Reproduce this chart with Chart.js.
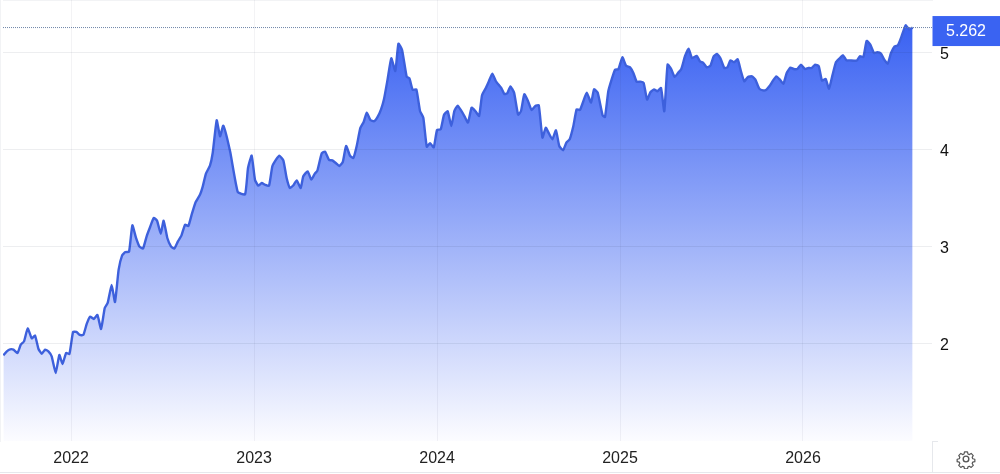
<!DOCTYPE html>
<html>
<head>
<meta charset="utf-8">
<title>Chart</title>
<script src="https://cdn.jsdelivr.net/npm/chart.js@4/dist/chart.umd.min.js"></script>
<style>
  html, body { margin: 0; padding: 0; background: #ffffff; overflow: hidden; }
  #wrap { position: relative; width: 1000px; height: 474px; }
  #gear { position: absolute; left: 956px; top: 449px; width: 20px; height: 20px; }
</style>
</head>
<body>
<div id="wrap">
  <canvas id="chart" width="1000" height="474"></canvas>
  <svg id="gear" viewBox="0 0 24 24" fill="none" stroke="#555555" stroke-width="1.6" stroke-linejoin="round">
    <circle cx="12" cy="12" r="3.4"></circle>
    <path d="M10 2.5h4l.6 2.8 1.9.8 2.4-1.5 2.8 2.8-1.5 2.4.8 1.9 2.8.6v3.2l-2.8.6-.8 1.9 1.5 2.4-2.8 2.8-2.4-1.5-1.9.8-.6 2.8h-4l-.6-2.8-1.9-.8-2.4 1.5-2.8-2.8 1.5-2.4-.8-1.9-2.8-.6v-3.2l2.8-.6.8-1.9-1.5-2.4 2.8-2.8 2.4 1.5 1.9-.8z" transform="translate(1.2 1.2) scale(0.9)"></path>
  </svg>
</div>
<script>
const yearTicks = [2022, 2023, 2024, 2025, 2026]
const valueTicks = [2, 3, 4, 5]

// position along the time axis, in years
const dates = [
  2021.630, 2021.649, 2021.667, 2021.685, 2021.707, 2021.725, 2021.743, 2021.763, 2021.785, 2021.803,
  2021.822, 2021.840, 2021.858, 2021.876, 2021.894, 2021.916, 2021.936, 2021.953, 2021.973, 2021.991,
  2022.011, 2022.029, 2022.047, 2022.067, 2022.086, 2022.104, 2022.124, 2022.144, 2022.164, 2022.184,
  2022.200, 2022.222, 2022.240, 2022.260, 2022.279, 2022.297, 2022.317, 2022.335, 2022.355, 2022.373,
  2022.393, 2022.413, 2022.432, 2022.452, 2022.470, 2022.490, 2022.506, 2022.526, 2022.546, 2022.564,
  2022.584, 2022.603, 2022.623, 2022.641, 2022.659, 2022.679, 2022.705, 2022.719, 2022.737, 2022.759,
  2022.774, 2022.796, 2022.814, 2022.832, 2022.869, 2022.911, 2022.951, 2022.967, 2022.987, 2023.005,
  2023.023, 2023.042, 2023.062, 2023.082, 2023.100, 2023.120, 2023.138, 2023.160, 2023.178, 2023.196,
  2023.215, 2023.233, 2023.255, 2023.269, 2023.293, 2023.313, 2023.332,
  2023.346, 2023.370, 2023.388, 2023.410, 2023.428, 2023.448, 2023.466, 2023.485, 2023.503, 2023.525,
  2023.543, 2023.561, 2023.581, 2023.599, 2023.616, 2023.636, 2023.656, 2023.676, 2023.694, 2023.710,
  2023.730, 2023.750, 2023.772, 2023.789, 2023.809, 2023.834, 2023.849, 2023.867, 2023.887, 2023.907,
  2023.925, 2023.944, 2023.962, 2023.982, 2024.000, 2024.020, 2024.038, 2024.058, 2024.078, 2024.095,
  2024.113, 2024.133, 2024.151, 2024.169, 2024.189, 2024.209, 2024.230, 2024.246, 2024.266, 2024.284,
  2024.302, 2024.321, 2024.339, 2024.350, 2024.368, 2024.384, 2024.401, 2024.421, 2024.443, 2024.459,
  2024.477, 2024.497, 2024.517, 2024.537, 2024.556, 2024.576, 2024.594, 2024.612, 2024.630, 2024.650,
  2024.668, 2024.689, 2024.707, 2024.725, 2024.745, 2024.763, 2024.781, 2024.800, 2024.818, 2024.842,
  2024.858, 2024.878, 2024.905, 2024.918, 2024.936, 2024.954, 2024.973, 2024.991, 2025.013, 2025.033,
  2025.055, 2025.073, 2025.091, 2025.111, 2025.129, 2025.148, 2025.166, 2025.186, 2025.204, 2025.224,
  2025.242, 2025.260, 2025.279, 2025.299, 2025.317, 2025.335, 2025.355, 2025.375, 2025.393, 2025.419,
  2025.437, 2025.455, 2025.475, 2025.494, 2025.512, 2025.530, 2025.548, 2025.570, 2025.587, 2025.603,
  2025.623, 2025.643, 2025.661, 2025.679, 2025.699, 2025.721, 2025.740, 2025.761, 2025.781, 2025.798,
  2025.816, 2025.836, 2025.854, 2025.874, 2025.893, 2025.911, 2025.931, 2025.949, 2025.969, 2025.989,
  2026.011, 2026.029, 2026.047, 2026.066, 2026.086, 2026.104, 2026.124, 2026.142, 2026.162, 2026.180,
  2026.199, 2026.219, 2026.237, 2026.255, 2026.293, 2026.311, 2026.330, 2026.348, 2026.368, 2026.388,
  2026.406, 2026.426, 2026.444, 2026.463, 2026.481, 2026.501, 2026.519, 2026.539, 2026.561, 2026.581,
  2026.599
]

const prices = [
  1.883, 1.924, 1.945, 1.942, 1.907, 1.993, 2.027, 2.161, 2.058, 2.086,
  1.948, 1.900, 1.942, 1.924, 1.873, 1.701, 1.887, 1.794, 1.907, 1.897,
  2.124, 2.124, 2.093, 2.093, 2.210, 2.282, 2.258, 2.299, 2.155, 2.371,
  2.423, 2.608, 2.433, 2.766, 2.914, 2.948, 2.952, 3.223, 3.093, 3.007,
  2.983, 3.110, 3.206, 3.299, 3.271, 3.137, 3.271, 3.093, 3.007, 2.983,
  3.058, 3.117, 3.230, 3.216, 3.333, 3.454, 3.540, 3.619, 3.756, 3.838,
  3.969, 4.306, 4.141, 4.251, 3.986, 3.567, 3.543, 3.814, 3.942, 3.694,
  3.632, 3.660, 3.639, 3.632, 3.832, 3.900, 3.942, 3.893, 3.711, 3.608,
  3.636, 3.687, 3.608, 3.729, 3.780, 3.694, 3.756,
  3.787, 3.966, 3.983, 3.897, 3.893, 3.863, 3.835, 3.876, 4.041, 3.938,
  3.918, 4.041, 4.227, 4.289, 4.385, 4.309, 4.296, 4.344, 4.419, 4.522,
  4.729, 4.945, 4.814, 5.096, 5.031, 4.756, 4.739, 4.619, 4.625, 4.402,
  4.333, 4.034, 4.069, 4.027, 4.206, 4.213, 4.361, 4.399, 4.247, 4.402,
  4.457, 4.402, 4.344, 4.282, 4.436, 4.402, 4.351, 4.564, 4.636, 4.711,
  4.787, 4.711, 4.667, 4.643, 4.577, 4.584, 4.656, 4.591, 4.364, 4.402,
  4.574, 4.505, 4.412, 4.454, 4.460, 4.127, 4.230, 4.168, 4.110, 4.203,
  4.041, 3.997, 4.076, 4.110, 4.247, 4.419, 4.412, 4.505, 4.591, 4.488,
  4.625, 4.591, 4.357, 4.340, 4.605, 4.725, 4.828, 4.832, 4.955, 4.869,
  4.852, 4.794, 4.704, 4.704, 4.691, 4.519, 4.595, 4.625, 4.605, 4.639,
  4.399, 4.880, 4.835, 4.753, 4.794, 4.835, 4.966, 5.045, 4.948, 4.969,
  4.914, 4.897, 4.852, 4.869, 4.966, 4.990, 4.948, 4.845, 4.852, 4.924,
  4.904, 4.935, 4.811, 4.708, 4.753, 4.759, 4.725, 4.632, 4.615, 4.619,
  4.656, 4.715, 4.759, 4.725, 4.684, 4.794, 4.849, 4.835, 4.835, 4.880,
  4.835, 4.845, 4.845, 4.880, 4.863, 4.715, 4.732, 4.632, 4.777, 4.904,
  4.942, 4.976, 4.924, 4.924, 4.921, 4.966, 4.959, 5.124, 5.086, 5.000,
  5.007, 4.993, 4.931, 4.890, 5.000, 5.069, 5.079, 5.172, 5.285, 5.241,
  5.262
]

const lastPrice = prices[prices.length - 1]
const fontFamily = "'Liberation Sans', Arial, sans-serif"

const priceTag = {
  id: "priceTag",
  afterDatasetsDraw(chart) {
    const { ctx, chartArea, scales } = chart
    const y = scales.y.getPixelForValue(lastPrice)

    ctx.save()
    ctx.strokeStyle = "#6f86a8"
    ctx.lineWidth = 1
    ctx.setLineDash([1, 1])
    ctx.beginPath()
    ctx.moveTo(chartArea.left, y)
    ctx.lineTo(chartArea.right, y)
    ctx.stroke()
    ctx.setLineDash([])

    ctx.strokeStyle = "#e6e8ec"
    ctx.beginPath()
    ctx.moveTo(chartArea.right + 0.5, chartArea.bottom)
    ctx.lineTo(chartArea.right + 0.5, 473)
    ctx.moveTo(chartArea.right, chartArea.bottom + 0.5)
    ctx.lineTo(chartArea.right + 6, chartArea.bottom + 0.5)
    ctx.moveTo(0, 472.5)
    ctx.lineTo(1000, 472.5)
    ctx.stroke()

    ctx.fillStyle = "#3a63f2"
    ctx.fillRect(chartArea.right + 0.5, y - 11.5, 67.5, 30)
    ctx.fillStyle = "#ffffff"
    ctx.font = "16px " + fontFamily
    ctx.textAlign = "center"
    ctx.textBaseline = "middle"
    ctx.fillText(lastPrice.toFixed(3), chartArea.right + 34, y + 4)
    ctx.restore()
  }
}

new Chart(document.getElementById("chart"), {
  type: "line",
  data: {
    datasets: [{
      data: dates.map((date, index) => ({ x: date, y: prices[index] })),
      borderColor: "#3d60dc",
      borderWidth: 2.4,
      pointRadius: 0,
      tension: 0.15,
      fill: "start",
      backgroundColor: (context) => {
        const { ctx, chartArea } = context.chart
        if (!chartArea) return "#3d66f0"

        const gradient = ctx.createLinearGradient(0, 27, 0, chartArea.bottom)
        gradient.addColorStop(0, "rgb(58, 98, 242)")
        gradient.addColorStop(1, "rgb(252, 252, 255)")
        return gradient
      }
    }]
  },
  options: {
    responsive: false,
    animation: false,
    layout: { padding: { left: 3 } },
    plugins: {
      legend: { display: false },
      tooltip: { enabled: false }
    },
    scales: {
      x: {
        type: "linear",
        min: 2021.628,
        max: 2026.705,
        afterBuildTicks: (axis) => { axis.ticks = yearTicks.map((value) => ({ value })) },
        afterFit: (axis) => { axis.height = 33 },
        grid: { color: "rgba(30, 40, 70, 0.055)", drawTicks: false, z: 1 },
        border: { color: "#e6e8ec" },
        ticks: {
          autoSkip: false,
          maxRotation: 0,
          padding: 8,
          color: "#222222",
          font: { family: fontFamily, size: 16 },
          callback: (value) => String(value)
        }
      },
      y: {
        position: "right",
        min: 1,
        max: 5.546,
        afterBuildTicks: (axis) => { axis.ticks = valueTicks.map((value) => ({ value })) },
        afterFit: (axis) => {
          axis.width = 68
          axis.paddingTop = 0
          axis.paddingBottom = 0
        },
        grid: { color: "rgba(30, 40, 70, 0.08)", drawTicks: false, z: 1 },
        border: { color: "#e6e8ec" },
        ticks: {
          padding: 8,
          labelOffset: 1.5,
          color: "#111111",
          font: { family: fontFamily, size: 16 },
          callback: (value) => String(value)
        }
      }
    }
  },
  plugins: [priceTag]
})
</script>
</body>
</html>
